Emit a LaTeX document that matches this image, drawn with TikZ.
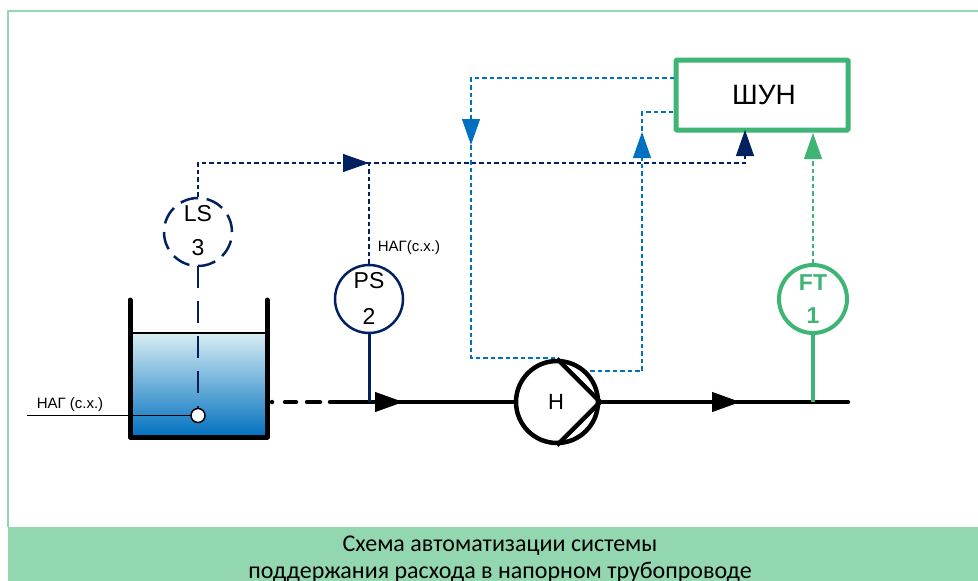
\documentclass[tikz,border=0pt]{standalone}
\usepackage{fontspec}
\setmainfont{Liberation Sans}
\newfontfamily\captionfont{Carlito}
\usepackage{tikz}
\usetikzlibrary{arrows.meta}
\usetikzlibrary{calc}
\definecolor{navyline}{HTML}{002060}
\definecolor{blueline}{HTML}{0070C0}
\definecolor{greenline}{HTML}{3EB475}
\definecolor{bandgreen}{HTML}{92D7AF}
\definecolor{waterlight}{HTML}{D8EDF3}
\tikzstyle{device}=[circle,draw,fill=white,minimum size=68pt,inner sep=0pt,line width=2.5pt]
\tikzstyle{wall} = [draw=black,line width=5pt,line cap=round,line join=round]
\tikzstyle{pipe} = [draw=black,line width=4.5pt,line cap=round]
\tikzstyle{signal} = [draw,line width=2.5pt,dash pattern=on 4.5pt off 3pt]
\tikzstyle{flowtip} = [-{Triangle[length=26pt,width=18pt]},draw,line width=1pt]
\tikzstyle{pipetip} = [-{Triangle[length=28pt,width=20pt]},draw=black,line width=1pt]
\tikzstyle{devtext} = [font=\fontsize{23}{23}\selectfont,inner sep=0pt]
\tikzstyle{smalltext} = [font=\fontsize{15}{15}\selectfont,inner sep=0pt]
\begin{document}
\begin{tikzpicture}[x=1pt,y=-1pt]
    \useasboundingbox (0,0) rectangle (978,581);
    % frame and caption band
    \coordinate (FL) at (8,527);
    \coordinate (FT) at (8,11);
    \coordinate (FR) at (978,11);
    \draw[bandgreen,line width=2pt] (FL) -- (FT) -- (FR);
    \fill[bandgreen] (8,527) rectangle (978,581);
    \node[font=\captionfont\fontsize{24}{24}\selectfont,inner sep=0pt] (cap1) at (500,545.5) {Схема автоматизации системы};
    \node[font=\captionfont\fontsize{24}{24}\selectfont,inner sep=0pt] (cap2) at (500,572) {поддержания расхода в напорном трубопроводе};

    % tank
    \shade[top color=waterlight,bottom color=blueline] (130,333) rectangle (267,437);
    \draw[black,line width=1.5pt] (130,333) -- (267,333);
    \draw[wall] (130,300) -- (130,437) -- (267,437) -- (267,300);

    % devices
    \node[device,draw=navyline,dash pattern=on 18pt off 8.7pt] (LS) at (198,232) {};
    \node[device,draw=navyline] (PS) at (369,299) {};
    \node[device,draw=greenline,line width=4pt] (FTd) at (813,299) {};
    \node[draw=greenline,line width=5pt,rounded corners=1pt,minimum width=172pt,minimum height=70pt,inner sep=0pt] (SHUN) at (762,95) {};
    \node[circle,draw=black,fill=white,line width=1.5pt,minimum size=14pt,inner sep=0pt] (sensor) at (198,415.5) {};

    \node[devtext] at (198,214) {LS};
    \node[devtext] at (198,248) {3};
    \node[devtext] at (369,281) {PS};
    \node[devtext] at (369,316) {2};
    \node[devtext,text=greenline,font=\fontsize{23}{23}\selectfont\bfseries] at (813,283) {FT};
    \node[devtext,text=greenline,font=\fontsize{23}{23}\selectfont\bfseries] at (813,316) {1};
    \node[font=\fontsize{28}{28}\selectfont,inner sep=0pt] at (764,95) {ШУН};
    \node[smalltext] at (70,405) {НАГ (с.х.)};
    \node[smalltext] at (409,248) {НАГ(с.х.)};

    % level sensor lines
    \coordinate (inL) at (27,415.5);
    \draw[black,line width=1.5pt] (inL) -- (sensor);
    \draw[navyline,line width=2.5pt,dash pattern=on 22pt off 13pt] (LS) ++(0,34) -- (sensor);

    % main pipe
    \coordinate (P0) at (272,402);
    \coordinate (P1) at (330,402);
    \coordinate (P2) at (848,402);
    \coordinate (A1) at (403,402);
    \coordinate (A1b) at (374,402);
    \coordinate (A2) at (740,402);
    \coordinate (A2b) at (710,402);
    \draw[black,line width=4.5pt,dash pattern=on 0pt off 13pt on 11pt off 11pt on 13pt off 10pt,line cap=round] (P0) -- (P1);
    \draw[pipe] (P1) -- (P2);
    \draw[navyline,line width=3pt] (PS.south) -- (369,402);
    \draw[greenline,line width=4.5pt] (FTd.south) -- (813,402);
    \draw[pipetip] (A1b) -- (A1);
    \draw[pipetip] (A2b) -- (A2);

    % control signals
    \coordinate (N1) at (198,163);
    \coordinate (N2) at (745,163);
    \coordinate (N3) at (745,156);
    \coordinate (Nt) at (745,130);
    \coordinate (Ja) at (343,163);
    \coordinate (Jb) at (369,163);
    \draw[signal,navyline] (LS.north) -- (N1) -- (N2) -- (N3);
    \draw[signal,navyline] (PS.north) -- (Jb);
    \draw[flowtip,navyline] (Ja) -- (Jb);
    \draw[flowtip,navyline] (N3) -- (Nt);

    \coordinate (B1) at (674,78);
    \coordinate (B2) at (471,78);
    \coordinate (B3) at (471,358);
    \coordinate (B4) at (556,358);
    \coordinate (Ba) at (471,120);
    \coordinate (Bb) at (471,145);
    \draw[signal,blueline] (B1) -- (B2) -- (B3) -- (B4);
    \draw[flowtip,blueline] (Ba) -- (Bb);

    \coordinate (C1) at (673,112);
    \coordinate (C2) at (642,112);
    \coordinate (C3) at (642,371);
    \coordinate (C4) at (589,371);
    \coordinate (Ca) at (642,157);
    \coordinate (Cb) at (642,132);
    \draw[signal,blueline] (C1) -- (C2) -- (C3) -- (C4);
    \draw[flowtip,blueline] (Ca) -- (Cb);

    \coordinate (Da) at (813,157);
    \coordinate (Db) at (813,133);
    \draw[signal,greenline] (FTd.north) -- (Da);
    \draw[flowtip,greenline] (Da) -- (Db);

    % pump
    \node[circle,draw=black,fill=white,line width=4.5pt,minimum size=82pt,inner sep=0pt] (pump) at (557,402) {};
    \draw[black,line width=4.5pt,line join=miter] (pump.north) -- (pump.east) -- (pump.south);
    \node[font=\fontsize{22}{22}\selectfont,inner sep=0pt] at (556,402) {Н};
\end{tikzpicture}
\end{document}
